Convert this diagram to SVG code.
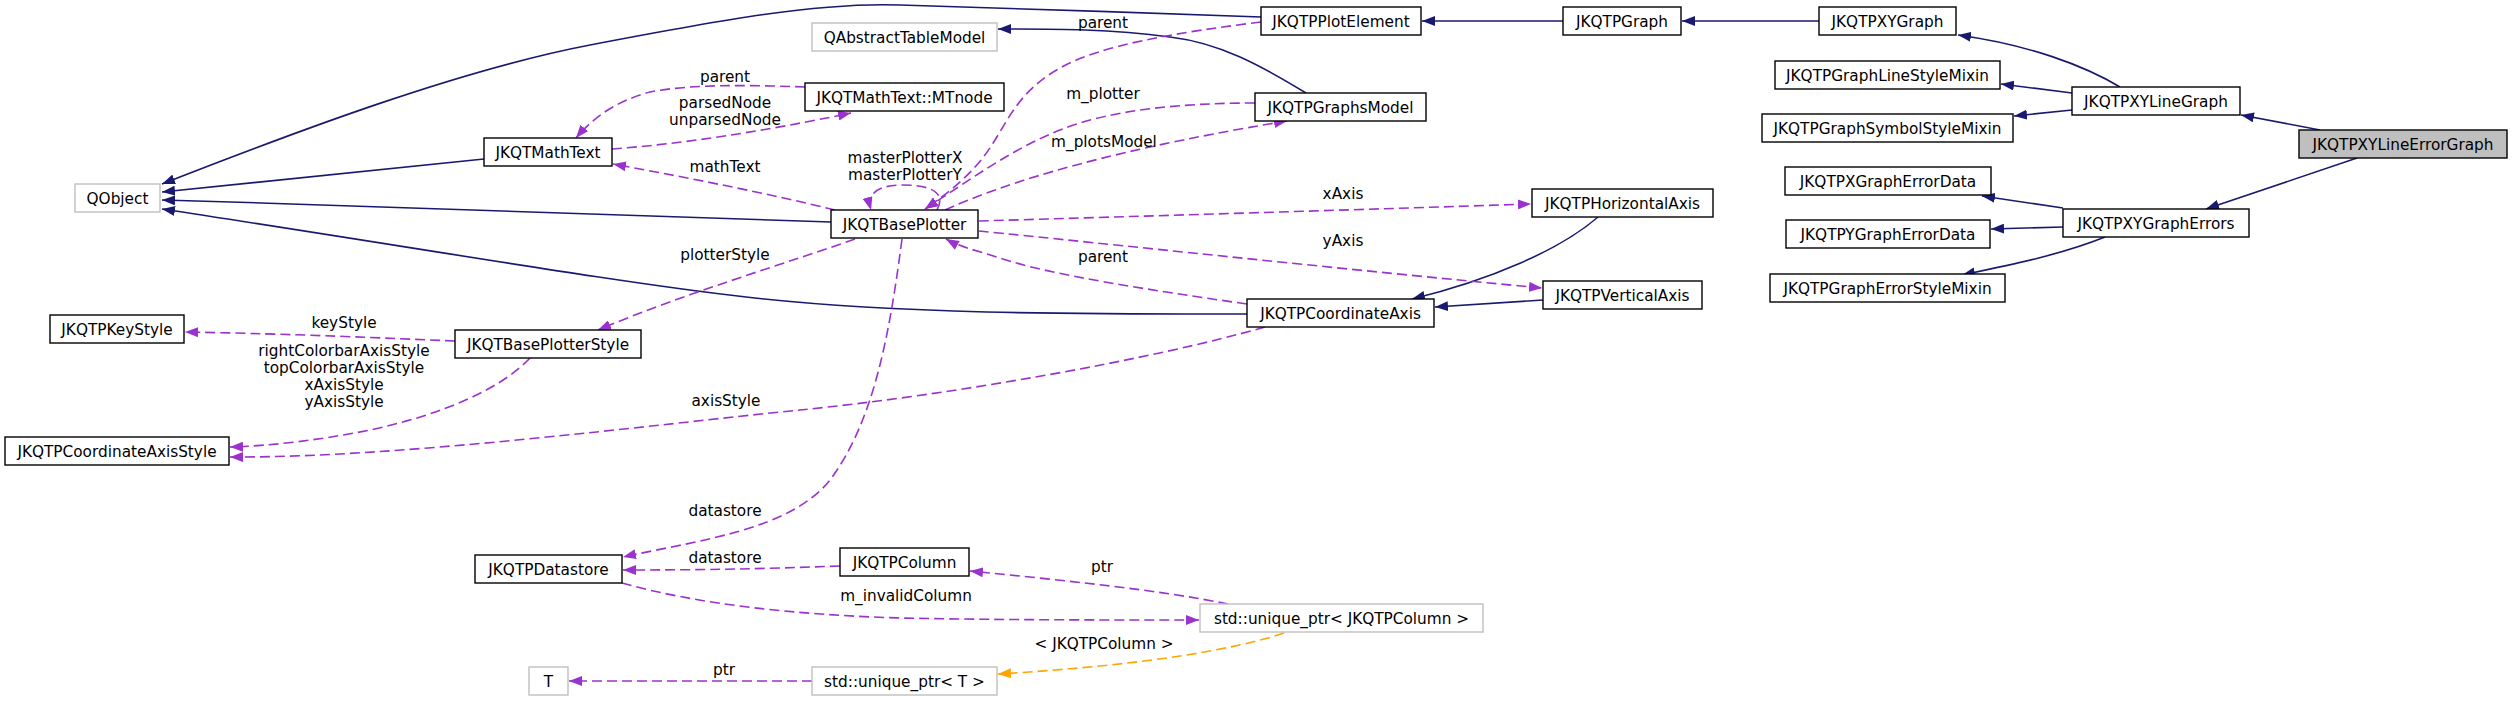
<svg xmlns="http://www.w3.org/2000/svg" width="2513" height="702" viewBox="0 0 2513 702">
<style>
text{font-family:"DejaVu Sans","Liberation Sans",sans-serif;font-size:15.3px;fill:#000;text-anchor:middle}
.n rect{fill:#fff;stroke:#000;stroke-width:1.4}
.g rect{fill:#fff;stroke:#bfbfbf;stroke-width:1.4}
.f rect{fill:#bfbfbf;stroke:#000;stroke-width:1.4}
.inh{fill:none;stroke:#191970;stroke-width:1.6;marker-end:url(#ai)}
.use{fill:none;stroke:#9a32cd;stroke-width:1.6;stroke-dasharray:10,5;marker-end:url(#au)}
.tpl{fill:none;stroke:#ffa500;stroke-width:1.6;stroke-dasharray:10,5;marker-end:url(#at)}
</style>
<defs>
<marker id="ai" markerUnits="userSpaceOnUse" markerWidth="14" markerHeight="10" refX="13" refY="5" orient="auto"><path d="M0,0 L13,5 L0,10 z" fill="#191970"/></marker>
<marker id="au" markerUnits="userSpaceOnUse" markerWidth="14" markerHeight="10" refX="13" refY="5" orient="auto"><path d="M0,0 L13,5 L0,10 z" fill="#9a32cd"/></marker>
<marker id="at" markerUnits="userSpaceOnUse" markerWidth="14" markerHeight="10" refX="13" refY="5" orient="auto"><path d="M0,0 L13,5 L0,10 z" fill="#ffa500"/></marker>
</defs>
<rect width="2513" height="702" fill="#fff"/>
<g id="edges">
<path class="inh" d="M1563,21 L1422,21"/>
<path class="inh" d="M1819,21 L1682,21"/>
<path class="inh" d="M2120,87 C2085,66 2030,45 1958,35"/>
<path class="inh" d="M2072,93 L2001,84"/>
<path class="inh" d="M2072,110 L2014,116"/>
<path class="inh" d="M2320,130 L2241,115"/>
<path class="inh" d="M2357,158 L2206,209"/>
<path class="inh" d="M2063,208 L1982,196"/>
<path class="inh" d="M2063,227 L1991,229"/>
<path class="inh" d="M2105,237 C2060,255 2010,265 1962,275"/>
<path class="inh" d="M1261,17 C1150,13 1000,8 900,5 C820,2 720,20 590,45 C460,70 300,130 162,184"/>
<path class="inh" d="M484,159 L162,192"/>
<path class="inh" d="M831,222 C650,215 400,207 162,200"/>
<path class="inh" d="M1247,314 C1100,314 900,315 746,297 C620,283 400,245 162,209"/>
<path class="inh" d="M1306,93 C1260,65 1220,43 1170,37 C1110,29 1060,29 998,29"/>
<path class="inh" d="M1598,217 C1560,250 1490,280 1412,299"/>
<path class="inh" d="M1543,300 L1435,307"/>
<path class="use" d="M805,87 C750,85 690,84 650,92 C620,100 595,115 576,138"/>
<path class="use" d="M612,149 C680,144 760,132 851,113"/>
<path class="use" d="M835,210 C770,194 690,178 613,164"/>
<path class="use" d="M1261,22 C1180,32 1100,45 1060,68 C1020,90 1008,120 995,140 C980,165 960,185 925,209"/>
<path class="use" d="M1255,103 C1180,103 1110,110 1060,130 C1010,150 970,180 925,209"/>
<path class="use" d="M945,210 C990,190 1080,155 1287,121"/>
<path class="use" d="M937,210 C948,190 925,185 903,185 C880,185 866,192 871,210"/>
<path class="use" d="M979,221 C1150,216 1350,210 1531,204"/>
<path class="use" d="M979,231 C1100,243 1350,270 1542,288"/>
<path class="use" d="M1247,304 C1150,290 1050,275 1000,258 C975,250 960,247 946,239"/>
<path class="use" d="M855,239 C790,262 680,295 598,330"/>
<path class="use" d="M455,341 C380,338 300,334 185,332"/>
<path class="use" d="M530,358 C500,390 440,415 370,430 C320,440 270,446 230,447"/>
<path class="use" d="M1265,327 C1150,360 950,395 800,410 C650,425 400,458 230,457"/>
<path class="use" d="M902,239 C890,330 875,420 830,480 C790,530 700,540 623,557"/>
<path class="use" d="M840,566 C760,569 700,570 623,570"/>
<path class="use" d="M622,583 C700,605 800,615 900,618 C1000,620 1100,620 1199,620"/>
<path class="use" d="M1228,604 C1160,590 1060,580 970,571"/>
<path class="use" d="M812,681 L569,681"/>
<path class="tpl" d="M1284,633 C1240,648 1150,665 998,674"/>
<text x="1103" y="28">parent</text>
<text x="1103" y="99">m_plotter</text>
<text x="1104" y="147">m_plotsModel</text>
<text x="905" y="163">masterPlotterX</text>
<text x="905" y="180">masterPlotterY</text>
<text x="725" y="82">parent</text>
<text x="725" y="108">parsedNode</text>
<text x="725" y="125">unparsedNode</text>
<text x="725" y="172">mathText</text>
<text x="725" y="260">plotterStyle</text>
<text x="344" y="328">keyStyle</text>
<text x="344" y="356">rightColorbarAxisStyle</text>
<text x="344" y="373">topColorbarAxisStyle</text>
<text x="344" y="390">xAxisStyle</text>
<text x="344" y="407">yAxisStyle</text>
<text x="726" y="406">axisStyle</text>
<text x="1343" y="199">xAxis</text>
<text x="1343" y="246">yAxis</text>
<text x="1103" y="262">parent</text>
<text x="725" y="516">datastore</text>
<text x="725" y="563">datastore</text>
<text x="1102" y="572">ptr</text>
<text x="906" y="601">m_invalidColumn</text>
<text x="1104" y="649">&lt; JKQTPColumn &gt;</text>
<text x="724" y="675">ptr</text>
</g>
<g id="n_QObject" class="g"><rect x="75" y="184" width="85" height="28"/><text x="117.5" y="203.5">QObject</text></g>
<g id="n_QAbstractTableModel" class="g"><rect x="812" y="23" width="185" height="28"/><text x="904.5" y="42.5">QAbstractTableModel</text></g>
<g id="n_MTnode" class="n"><rect x="805" y="83" width="199" height="28"/><text x="904.5" y="102.5">JKQTMathText::MTnode</text></g>
<g id="n_JKQTMathText" class="n"><rect x="484" y="138" width="128" height="28"/><text x="548" y="157.5">JKQTMathText</text></g>
<g id="n_JKQTBasePlotter" class="n"><rect x="831" y="210" width="147" height="28"/><text x="904.5" y="229.5">JKQTBasePlotter</text></g>
<g id="n_JKQTPKeyStyle" class="n"><rect x="50" y="315" width="134" height="28"/><text x="117" y="334.5">JKQTPKeyStyle</text></g>
<g id="n_JKQTBasePlotterStyle" class="n"><rect x="455" y="330" width="186" height="28"/><text x="548" y="349.5">JKQTBasePlotterStyle</text></g>
<g id="n_JKQTPCoordinateAxisStyle" class="n"><rect x="5" y="437" width="224" height="28"/><text x="117" y="456.5">JKQTPCoordinateAxisStyle</text></g>
<g id="n_JKQTPDatastore" class="n"><rect x="475" y="555" width="147" height="28"/><text x="548.5" y="574.5">JKQTPDatastore</text></g>
<g id="n_T" class="g"><rect x="529" y="667" width="39" height="28"/><text x="548.5" y="686.5">T</text></g>
<g id="n_JKQTPColumn" class="n"><rect x="840" y="548" width="129" height="28"/><text x="904.5" y="567.5">JKQTPColumn</text></g>
<g id="n_unique_ptr_T" class="g"><rect x="812" y="667" width="185" height="28"/><text x="904.5" y="686.5">std::unique_ptr&lt; T &gt;</text></g>
<g id="n_unique_ptr_col" class="g"><rect x="1200" y="604" width="283" height="28"/><text x="1341.5" y="623.5">std::unique_ptr&lt; JKQTPColumn &gt;</text></g>
<g id="n_JKQTPPlotElement" class="n"><rect x="1261" y="7" width="160" height="28"/><text x="1341" y="26.5">JKQTPPlotElement</text></g>
<g id="n_JKQTPGraphsModel" class="n"><rect x="1255" y="93" width="171" height="28"/><text x="1340.5" y="112.5">JKQTPGraphsModel</text></g>
<g id="n_JKQTPCoordinateAxis" class="n"><rect x="1247" y="299" width="187" height="28"/><text x="1340.5" y="318.5">JKQTPCoordinateAxis</text></g>
<g id="n_JKQTPHorizontalAxis" class="n"><rect x="1532" y="189" width="181" height="28"/><text x="1622.5" y="208.5">JKQTPHorizontalAxis</text></g>
<g id="n_JKQTPVerticalAxis" class="n"><rect x="1543" y="281" width="159" height="28"/><text x="1622.5" y="300.5">JKQTPVerticalAxis</text></g>
<g id="n_JKQTPGraph" class="n"><rect x="1563" y="7" width="118" height="28"/><text x="1622" y="26.5">JKQTPGraph</text></g>
<g id="n_JKQTPXYGraph" class="n"><rect x="1819" y="7" width="137" height="28"/><text x="1887.5" y="26.5">JKQTPXYGraph</text></g>
<g id="n_JKQTPGraphLineStyleMixin" class="n"><rect x="1775" y="61" width="225" height="28"/><text x="1887.5" y="80.5">JKQTPGraphLineStyleMixin</text></g>
<g id="n_JKQTPGraphSymbolStyleMixin" class="n"><rect x="1762" y="114" width="251" height="28"/><text x="1887.5" y="133.5">JKQTPGraphSymbolStyleMixin</text></g>
<g id="n_JKQTPXGraphErrorData" class="n"><rect x="1785" y="167" width="206" height="28"/><text x="1888" y="186.5">JKQTPXGraphErrorData</text></g>
<g id="n_JKQTPYGraphErrorData" class="n"><rect x="1786" y="220" width="204" height="28"/><text x="1888" y="239.5">JKQTPYGraphErrorData</text></g>
<g id="n_JKQTPGraphErrorStyleMixin" class="n"><rect x="1770" y="274" width="235" height="28"/><text x="1887.5" y="293.5">JKQTPGraphErrorStyleMixin</text></g>
<g id="n_JKQTPXYLineGraph" class="n"><rect x="2072" y="87" width="168" height="28"/><text x="2156" y="106.5">JKQTPXYLineGraph</text></g>
<g id="n_JKQTPXYGraphErrors" class="n"><rect x="2063" y="209" width="186" height="28"/><text x="2156" y="228.5">JKQTPXYGraphErrors</text></g>
<g id="n_JKQTPXYLineErrorGraph" class="f"><rect x="2299" y="130" width="208" height="28"/><text x="2403" y="149.5">JKQTPXYLineErrorGraph</text></g>
</svg>
